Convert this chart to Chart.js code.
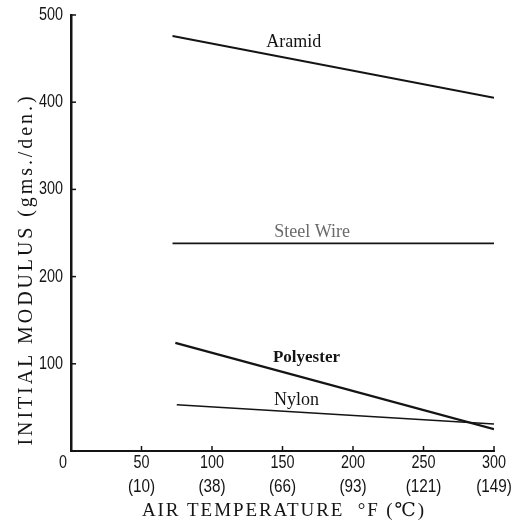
<!DOCTYPE html>
<html>
<head>
<meta charset="utf-8">
<script src="https://cdn.jsdelivr.net/npm/chart.js@4.4.1/dist/chart.umd.min.js"></script>
<style>
    html, body { margin: 0; padding: 0; background: #fff; }
    #wrap { width: 521px; height: 522px; }
</style>
</head>
<body>
<div id="wrap"><canvas id="modulusChart" width="521" height="522"></canvas></div>
<script>
// data (temperature in °F, modulus in gms./den.)
const fTicks = [0, 50, 100, 150, 200, 250, 300];
const cTicks = ["", "(10)", "(38)", "(66)", "(93)", "(121)", "(149)"];
const yTicks = [100, 200, 300, 400, 500];

const aramidX = [72, 300];
const aramidY = [476, 405];
const steelX = [72, 300];
const steelY = [238, 238];
const polyesterX = [74, 300];
const polyesterY = [124, 25];
const nylonX = [75, 300];
const nylonY = [53, 31];

const seriesNames = ["Aramid", "Steel Wire", "Polyester", "Nylon"];
// where each series name sits, in data units
const nameAtX = [158, 171, 167, 160];
const nameAtY = [469, 251, 107, 58];

const pairUp = (xs, ys) => xs.map((x, i) => ({ x: x, y: ys[i] }));

const ink = "#141414";
const tickFont = "18px 'Liberation Sans', 'DejaVu Sans', sans-serif";
const serif = "'Liberation Serif', 'DejaVu Serif', serif";

// narrow text: squeeze horizontally like the scanned typeface
function narrowText(ctx, text, x, y, align, squeeze) {
    ctx.save();
    ctx.translate(x, y);
    ctx.scale(squeeze, 1);
    ctx.textAlign = align;
    ctx.fillText(text, 0, 0);
    ctx.restore();
}

// text stretched to a given length with letter spacing
function spacedText(ctx, text, length) {
    ctx.letterSpacing = "0px";
    const w = ctx.measureText(text).width;
    const gap = Math.max(0, (length - w) / text.length);
    ctx.letterSpacing = gap + "px";
    ctx.fillText(text, gap / 2, 0);
    ctx.letterSpacing = "0px";
}

const labelsPlugin = {
    id: "labels",
    afterDraw(chart) {
        const ctx = chart.ctx;
        const xs = chart.scales.x;
        const ys = chart.scales.y;
        const area = chart.chartArea;

        ctx.save();

        // inward tick marks
        ctx.strokeStyle = ink;
        ctx.lineWidth = 1.5;
        fTicks.forEach((v) => {
            if (v === 0) return;
            const px = xs.getPixelForValue(v);
            ctx.beginPath();
            ctx.moveTo(px, area.bottom);
            ctx.lineTo(px, area.bottom - 5);
            ctx.stroke();
        });
        yTicks.forEach((v) => {
            const py = ys.getPixelForValue(v);
            ctx.beginPath();
            ctx.moveTo(area.left, py);
            ctx.lineTo(area.left + 5, py);
            ctx.stroke();
        });

        // tick labels
        ctx.fillStyle = ink;
        ctx.font = tickFont;
        ctx.textBaseline = "middle";
        fTicks.forEach((v, i) => {
            const px = xs.getPixelForValue(v) - (v === 0 ? 8 : 0);
            narrowText(ctx, String(v), px, area.bottom + 12, "center", 0.8);
            if (cTicks[i]) narrowText(ctx, cTicks[i], px, area.bottom + 36, "center", 0.85);
        });
        yTicks.forEach((v) => {
            narrowText(ctx, String(v), area.left - 8, ys.getPixelForValue(v), "right", 0.8);
        });

        // series names
        ctx.textAlign = "center";
        seriesNames.forEach((name, i) => {
            ctx.fillStyle = name === "Steel Wire" ? "#6a6a6a" : ink;
            ctx.font = (name === "Polyester" ? "bold 17px " : "18px ") + serif;
            ctx.fillText(name, xs.getPixelForValue(nameAtX[i]), ys.getPixelForValue(nameAtY[i]));
        });

        // axis titles
        ctx.fillStyle = ink;
        ctx.font = "19px " + serif;
        ctx.save();
        ctx.translate(283, 511);
        spacedText(ctx, "AIR TEMPERATURE  \u00b0F (\u2103)", 284);
        ctx.restore();

        ctx.font = "20px " + serif;
        ctx.save();
        ctx.translate(27, 271);
        ctx.rotate(-Math.PI / 2);
        spacedText(ctx, "INITIAL MODULUS (gms./den.)", 352);
        ctx.restore();

        ctx.restore();
    },
};

const lineStyle = (w) => ({
    borderColor: ink,
    borderWidth: w,
    pointRadius: 0,
    fill: false,
    tension: 0,
});

new Chart(document.getElementById("modulusChart"), {
    type: "line",
    data: {
        datasets: [
            { label: "Aramid", data: pairUp(aramidX, aramidY), ...lineStyle(2) },
            { label: "Steel Wire", data: pairUp(steelX, steelY), ...lineStyle(1.8) },
            { label: "Polyester", data: pairUp(polyesterX, polyesterY), ...lineStyle(2.2) },
            { label: "Nylon", data: pairUp(nylonX, nylonY), ...lineStyle(1.6) },
        ],
    },
    options: {
        responsive: false,
        animation: false,
        layout: {
            padding: { left: 0, right: 27, top: 15, bottom: 0 },
        },
        plugins: {
            legend: { display: false },
            tooltip: { enabled: false },
        },
        scales: {
            x: {
                type: "linear",
                min: 0,
                max: 300,
                afterFit: (scale) => {
                    scale.height = 71;
                },
                afterBuildTicks: (scale) => {
                    scale.ticks = fTicks.map((v) => ({ value: v }));
                },
                grid: { display: false },
                border: { display: true, color: ink, width: 2 },
                ticks: { display: false },
            },
            y: {
                type: "linear",
                min: 0,
                max: 500,
                afterFit: (scale) => {
                    scale.width = 71;
                },
                afterBuildTicks: (scale) => {
                    scale.ticks = yTicks.map((v) => ({ value: v }));
                },
                grid: { display: false },
                border: { display: true, color: ink, width: 2.5 },
                ticks: { display: false },
            },
        },
    },
    plugins: [labelsPlugin],
});
</script>
</body>
</html>
